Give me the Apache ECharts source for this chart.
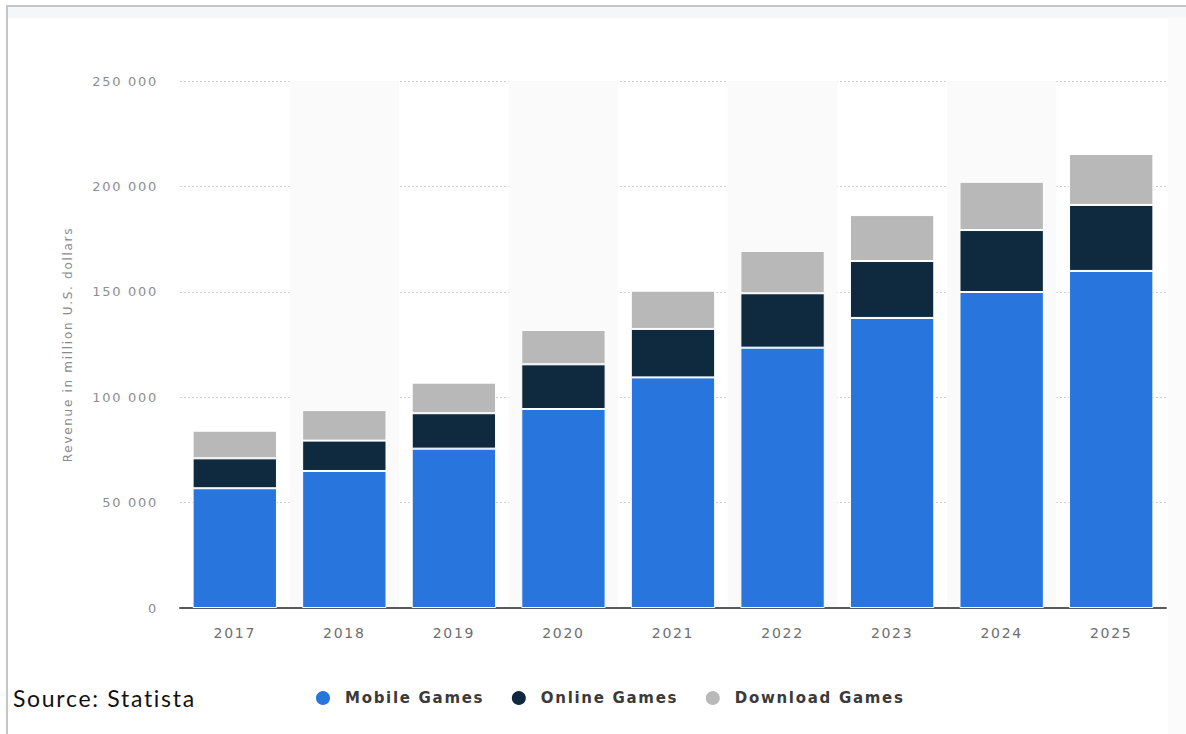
<!DOCTYPE html>
<html>
<head>
<meta charset="utf-8">
<title>Video game revenue by segment</title>
<script src="https://cdn.jsdelivr.net/npm/echarts@6/dist/echarts.min.js"></script>
<style>
  html, body { margin: 0; padding: 0; background: #ffffff; }
  #chart { width: 1186px; height: 734px; }
  /* airy tracking on all chart lettering */
  #chart svg text { letter-spacing: 1.7px; }
</style>
</head>
<body>
<div id="chart"></div>
<script>
// Years on the category axis
const years = ['2017', '2018', '2019', '2020', '2021', '2022', '2023', '2024', '2025'];

// Revenue per segment, million U.S. dollars
const mobileGames   = [56800, 65000, 75600, 94400, 109400, 123500, 137600, 149900, 159900];
const onlineGames   = [14200, 14400, 16800, 21200, 23000, 25800, 27000, 29400, 31300];
const downloadGames = [13100, 14500, 14500, 16300, 18100, 20100, 21800, 22900, 24200];

// Value axis ticks
const yTicks = [0, 50000, 100000, 150000, 200000, 250000];

const seriesNames = ['Mobile Games', 'Online Games', 'Download Games'];
const seriesColors = ['#2876dd', '#0f2a3f', '#b8b8b8'];
const seriesData = [mobileGames, onlineGames, downloadGames];

const chart = echarts.init(document.getElementById('chart'), null, { renderer: 'svg' });

const formatThousands = v => String(v).replace(/\B(?=(\d{3})+(?!\d))/g, ' ');

chart.setOption({
  backgroundColor: '#ffffff',
  animation: false,
  graphic: [
    // frame: thin grey rule on top and left, light band under the top rule
    { type: 'rect', left: 8, top: 7, shape: { width: 1178, height: 11 }, style: { fill: '#f5f6f8' }, silent: true, z: -10 },
    { type: 'rect', left: 1168, top: 18, shape: { width: 18, height: 716 }, style: { fill: '#fbfbfc' }, silent: true, z: -10 },
    { type: 'rect', left: 7, top: 5, shape: { width: 1179, height: 2 }, style: { fill: '#c6c6c6' }, silent: true },
    { type: 'rect', left: 6, top: 5, shape: { width: 2, height: 729 }, style: { fill: '#c6c6c6' }, silent: true },
    {
      type: 'text', left: 13, top: 686,
      style: { text: 'Source: Statista', fill: '#111111', font: '23px Lato, "Noto Sans", sans-serif' },
      silent: true
    }
  ],
  grid: { left: 180, right: 20, top: 81, bottom: 126, containLabel: false },
  legend: {
    data: seriesNames,
    left: 309,
    top: 684,
    icon: 'circle',
    itemWidth: 16,
    itemHeight: 16,
    // tracking widens each label by ~20px beyond its measured width
    itemGap: 46,
    selectedMode: false,
    textStyle: {
      color: '#3a3a3a',
      fontFamily: '"DejaVu Sans", sans-serif',
      fontWeight: 'bold',
      fontSize: 15,
      padding: [0, 0, 0, 9]
    }
  },
  xAxis: {
    type: 'category',
    data: years,
    axisLine: { show: true, lineStyle: { color: '#5a5a5a', width: 2 } },
    axisTick: { show: false },
    axisLabel: {
      color: '#6e6e6e',
      fontFamily: '"DejaVu Sans", sans-serif',
      fontSize: 14,
      margin: 18
    },
    splitArea: { show: true, areaStyle: { color: ['rgba(255,255,255,0)', '#fafafa'] } },
    splitLine: { show: false }
  },
  yAxis: {
    type: 'value',
    min: yTicks[0],
    max: yTicks[yTicks.length - 1],
    interval: yTicks[1] - yTicks[0],
    name: 'Revenue in million U.S. dollars',
    nameLocation: 'middle',
    nameGap: 106,
    nameTextStyle: { color: '#8a8a8a', fontFamily: '"DejaVu Sans", sans-serif', fontSize: 12 },
    axisLine: { show: false },
    axisTick: { show: false },
    axisLabel: {
      color: '#8e8e8e',
      fontFamily: '"DejaVu Sans", sans-serif',
      fontSize: 13,
      margin: 22,
      formatter: v => formatThousands(v)
    },
    splitLine: { show: true, lineStyle: { color: '#cfcfcf', type: [2, 2], width: 1 } }
  },
  series: seriesNames.map((name, i) => ({
    name: name,
    type: 'bar',
    stack: 'revenue',
    data: seriesData[i],
    barCategoryGap: '23%',
    itemStyle: { color: seriesColors[i], borderColor: '#ffffff', borderWidth: 1 },
    emphasis: { disabled: true }
  }))
});
</script>
</body>
</html>
